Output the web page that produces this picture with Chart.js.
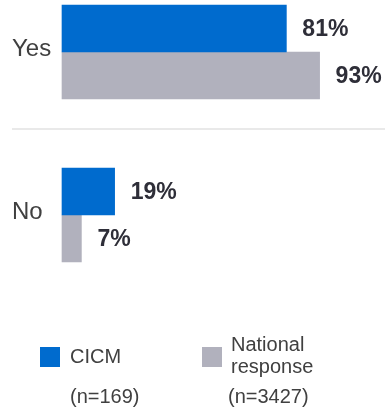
<!DOCTYPE html>
<html>
<head>
<meta charset="utf-8">
<script src="https://cdn.jsdelivr.net/npm/chart.js@4/dist/chart.umd.min.js"></script>
<style>
    html, body { margin: 0; padding: 0; background: #fff; }
    #wrap { width: 385px; height: 411px; position: relative; }
</style>
</head>
<body>
<div id="wrap"><canvas id="chart"></canvas></div>
<script>
// Datos del gráfico
const categories = ['Yes', 'No'];
const cicmValues = [81, 19];
const nationalValues = [93, 7];
const seriesNames = ['CICM', 'National response'];
const sampleSizes = ['(n=169)', '(n=3427)'];

const blue = '#006BCE';
const grey = '#B1B1BD';
const fontFamily = '"Liberation Sans", Arial, sans-serif';

// Etiquetas de valor al final de cada barra
const valueLabels = {
    id: 'valueLabels',
    afterDatasetsDraw(chart) {
        const ctx = chart.ctx;
        ctx.save();
        ctx.font = 'bold 23px ' + fontFamily;
        ctx.fillStyle = '#2E2E38';
        ctx.textAlign = 'left';
        ctx.textBaseline = 'middle';
        chart.data.datasets.forEach(function(ds, i) {
            chart.getDatasetMeta(i).data.forEach(function(bar, j) {
                ctx.fillText(ds.data[j] + '%', bar.x + 16, bar.y + 1);
            });
        });
        ctx.restore();
    }
};

// Línea separadora y leyenda
const extras = {
    id: 'extras',
    afterDraw(chart) {
        const ctx = chart.ctx;
        ctx.save();
        ctx.strokeStyle = '#E2E2E2';
        ctx.lineWidth = 1.5;
        ctx.beginPath();
        ctx.moveTo(12, 129);
        ctx.lineTo(385, 129);
        ctx.stroke();

        ctx.font = '20px ' + fontFamily;
        ctx.fillStyle = '#404040';
        ctx.textBaseline = 'middle';
        ctx.textAlign = 'left';

        // CICM
        ctx.fillStyle = blue;
        ctx.fillRect(40, 347, 20, 20);
        ctx.fillStyle = '#404040';
        ctx.fillText(seriesNames[0], 70, 357);
        ctx.fillText(sampleSizes[0], 70, 397);

        // National response
        ctx.fillStyle = grey;
        ctx.fillRect(202, 347, 20, 20);
        ctx.fillStyle = '#404040';
        const words = seriesNames[1].split(' ');
        ctx.fillText(words[0], 231, 345);
        ctx.fillText(words[1], 231, 367);
        ctx.fillText(sampleSizes[1], 228, 397);
        ctx.restore();
    }
};

new Chart(document.getElementById('chart').getContext('2d'), {
    type: 'bar',
    data: {
        labels: categories,
        datasets: [{
            label: seriesNames[0],
            data: cicmValues,
            backgroundColor: blue,
            barThickness: 47,
            clip: false
        }, {
            label: seriesNames[1],
            data: nationalValues,
            backgroundColor: grey,
            barThickness: 47,
            clip: false
        }]
    },
    options: {
        indexAxis: 'y',
        responsive: true,
        maintainAspectRatio: false,
        animation: false,
        layout: {
            padding: { left: 12, right: 46, top: 52, bottom: 196 }
        },
        scales: {
            x: {
                display: false,
                min: 0,
                max: 100
            },
            y: {
                offset: false,
                grid: { display: false },
                border: { display: false },
                ticks: {
                    color: '#404040',
                    font: { family: fontFamily, size: 24 },
                    crossAlign: 'far',
                    padding: 0,
                    labelOffset: -3
                },
                afterFit: function(scale) {
                    scale.width = 50;
                }
            }
        },
        plugins: {
            legend: { display: false },
            tooltip: { enabled: false }
        }
    },
    plugins: [valueLabels, extras]
});
</script>
</body>
</html>
